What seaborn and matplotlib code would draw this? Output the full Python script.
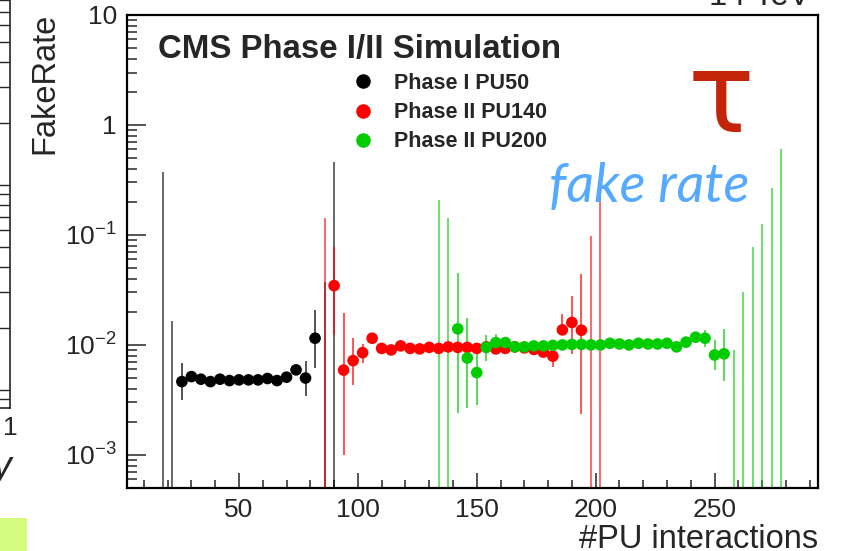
import numpy as np
import pandas as pd
import matplotlib
matplotlib.use("Agg")
import matplotlib.pyplot as plt
import matplotlib.ticker as mticker
from matplotlib.patches import Rectangle
import seaborn as sns

# ---------------- data ----------------
pu50_x = [26, 30, 34, 38, 42, 46, 50, 54, 58, 62, 66, 70, 74, 78, 82]
pu50_y = [4.64e-3, 5.15e-3, 4.88e-3, 4.64e-3, 4.88e-3, 4.74e-3, 4.81e-3, 4.81e-3,
          4.81e-3, 4.95e-3, 4.74e-3, 5.09e-3, 5.93e-3, 5.0e-3, 1.15e-2]
pu50_lo = [3.16e-3, None, None, None, None, None, None, None, None, None, None, None, None, 3.4e-3, 6.2e-3]
pu50_hi = [6.8e-3, None, None, None, None, None, None, None, None, None, None, None, None, 7.1e-3, 2.07e-2]
pu50_open_x = [18, 22, 86, 90]
pu50_open_hi = [0.37, 0.0166, 0.0377, 0.46]

pu140_x = [90, 94, 98, 102, 106, 110, 114, 118, 122, 126, 130, 134, 138, 142,
           146, 150, 154, 158, 162, 166, 170, 174, 178, 182, 186, 190, 194]
pu140_y = [0.0346, 5.9e-3, 7.2e-3, 8.5e-3, 1.15e-2, 9.3e-3, 9.0e-3, 9.8e-3, 9.3e-3,
           9.2e-3, 9.5e-3, 9.3e-3, 9.6e-3, 9.5e-3, 9.5e-3, 9.3e-3, 9.6e-3, 9.2e-3,
           9.3e-3, 9.6e-3, 9.4e-3, 9.1e-3, 8.6e-3, 7.9e-3, 0.0137, 0.0160, 0.0136]
pu140_lo = [0.0123, 1.0e-3, 4.3e-3, 6.8e-3] + [None] * 19 + [6.35e-3, 0.0123, 8.3e-3, 2.34e-3]
pu140_hi = [0.078, 0.0194, 0.0115, 0.0103] + [None] * 19 + [9.0e-3, 0.019, 0.028, 0.0442]
pu140_open_x = [86, 198, 202]
pu140_open_hi = [0.144, 0.098, 0.234]

pu200_x = [142, 146, 150, 154, 158, 162, 166, 170, 174, 178, 182, 186, 190, 194, 198,
           202, 206, 210, 214, 218, 222, 226, 230, 234, 238, 242, 246, 250, 254]
pu200_y = [0.0140, 7.6e-3, 5.6e-3, 9.5e-3, 0.0105, 0.0105, 9.6e-3, 9.6e-3, 9.8e-3,
           9.8e-3, 9.9e-3, 0.0100, 0.0101, 0.0101, 0.0100, 0.0100, 0.01035, 0.0102,
           0.0100, 0.01035, 0.0102, 0.0102, 0.01035, 9.6e-3, 0.0106, 0.01175, 0.0115,
           8.1e-3, 8.3e-3]
pu200_lo = [2.39e-3, 2.66e-3, 2.85e-3, 7.2e-3, 8.5e-3] + [None] * 21 + [9.66e-3, 5.93e-3, 4.73e-3]
pu200_hi = [0.0454, 0.0175, 0.0100, 0.0123, 0.0125] + [None] * 21 + [0.0137, 0.0111, 0.0139]
pu200_open_x = [134, 138, 258, 262, 266, 270, 274, 278]
pu200_open_hi = [0.209, 0.144, 8.9e-3, 0.0306, 0.078, 0.125, 0.265, 0.605]

labels = ["Phase I PU50", "Phase II PU140", "Phase II PU200"]
colors = {"Phase I PU50": "black", "Phase II PU140": "#ff0000", "Phase II PU200": "#00cc00"}

y_ticks = [1e-3, 1e-2, 1e-1, 1, 10]
y_ticklabels = ["$10^{-3}$", "$10^{-2}$", "$10^{-1}$", "1", "10"]
x_ticks = [50, 100, 150, 200, 250]

# ---------------- style ----------------
sns.set_theme(style="ticks")
plt.rcParams["font.family"] = ["Liberation Sans", "DejaVu Sans"]
plt.rcParams["mathtext.fontset"] = "custom"
plt.rcParams["mathtext.rm"] = "Liberation Sans"
plt.rcParams["mathtext.it"] = "Liberation Sans:italic"
plt.rcParams["mathtext.bf"] = "Liberation Sans:bold"
plt.rcParams["mathtext.default"] = "regular"

W, H = 842, 551
fig = plt.figure(figsize=(W / 100, H / 100), dpi=100)
fig.patch.set_facecolor("white")

def fx(px):
    return px / W

def fy(py):
    return 1 - py / H

# ---------------- remnant of previous panel (left edge) ----------------
ax0 = fig.add_axes([fx(-200), fy(408), fx(210), (408 + 20) / H])
ax0.set_yscale("log")
ax0.set_ylim(10 ** -0.088, 10 ** 2.0)
ax0.set_xlim(0, 1)
ax0.set_xticks([1])
ax0.set_xticklabels(["1"], fontsize=19)
ax0.yaxis.tick_right()
ax0.tick_params(axis="y", which="major", direction="in", length=10, width=1, right=True, left=False, labelright=False)
ax0.tick_params(axis="y", which="minor", direction="in", length=10, width=1, right=True, left=False, labelright=False)
ax0.tick_params(axis="x", which="both", length=0, pad=6)
for s in ["top", "left"]:
    ax0.spines[s].set_visible(False)
ax0.spines["right"].set_linewidth(1.2)
ax0.spines["bottom"].set_linewidth(1.2)
ax0.set_facecolor("none")
fig.text(fx(11), fy(468), "y", ha="right", va="center", fontsize=27, style="italic")
fig.patches.append(Rectangle((0, 0), fx(27), 33 / H, transform=fig.transFigure,
                             facecolor="#d4fa7e", edgecolor="none"))

# ---------------- main axes ----------------
ax = fig.add_axes([fx(126.5), fy(488), fx(818) - fx(126.5), fy(15) - fy(488)])
ax.set_yscale("log")
ymin, ymax = 5e-4, 10
ax.set_ylim(ymin, ymax)
ax.set_xlim(2.7, 293.5)

frames = []
for lab, xs, ys in [(labels[0], pu50_x, pu50_y), (labels[1], pu140_x, pu140_y), (labels[2], pu200_x, pu200_y)]:
    frames.append(pd.DataFrame({"PU": xs, "FakeRate": ys, "sample": lab}))
df = pd.concat(frames, ignore_index=True)

# error bars
series = [
    (labels[0], pu50_x, pu50_lo, pu50_hi, pu50_open_x, pu50_open_hi),
    (labels[1], pu140_x, pu140_lo, pu140_hi, pu140_open_x, pu140_open_hi),
    (labels[2], pu200_x, pu200_lo, pu200_hi, pu200_open_x, pu200_open_hi),
]
for lab, xs, lo, hi, ox, ohi in series:
    c = colors[lab]
    xe = [x for x, l in zip(xs, lo) if l is not None]
    le = [l for l in lo if l is not None]
    he = [h for h in hi if h is not None]
    ax.vlines(xe, le, he, colors=c, lw=1.1, alpha=0.85, zorder=2)
    ax.vlines(ox, [ymin * 0.5] * len(ox), ohi, colors=c, lw=1.1, alpha=0.75, zorder=2)

sns.scatterplot(data=df, x="PU", y="FakeRate", hue="sample", hue_order=labels,
                palette=colors, s=70, edgecolor="none", linewidth=0, alpha=1,
                ax=ax, zorder=3)

# axes styling
for s in ["top", "right", "left", "bottom"]:
    ax.spines[s].set_visible(True)
    ax.spines[s].set_linewidth(1.6)
    ax.spines[s].set_color("black")
ax.set_xticks(x_ticks)
ax.xaxis.set_minor_locator(mticker.MultipleLocator(10))
ax.yaxis.set_major_locator(mticker.FixedLocator(y_ticks))
ax.yaxis.set_major_formatter(mticker.FixedFormatter(y_ticklabels))
ax.yaxis.set_minor_locator(mticker.LogLocator(base=10, subs=np.arange(2, 10)))
ax.yaxis.set_minor_formatter(mticker.NullFormatter())
ax.tick_params(axis="x", which="major", direction="in", length=11, width=1.1, labelsize=19, pad=7, top=False)
ax.tick_params(axis="x", which="minor", direction="in", length=5.5, width=1.1, top=False)
ax.tick_params(axis="y", which="major", direction="in", length=14, width=1.1, labelsize=19, pad=7, right=False)
ax.tick_params(axis="y", which="minor", direction="in", length=7, width=1.1, right=False)

ax.set_xlabel("")
ax.set_ylabel("")
fig.text(fx(818), fy(548), "#PU interactions", ha="right", va="baseline", fontsize=23.5)
fig.text(fx(60), fy(13), "FakeRate", rotation=90, ha="right", va="top", fontsize=23.5)
fig.text(fx(810), fy(5), "14 TeV", ha="right", va="baseline", fontsize=23.5)

# legend
sns.move_legend(ax, "upper left", bbox_to_anchor=(fx(352.6), fy(73)),
                bbox_transform=fig.transFigure, frameon=False, title=None,
                prop={"weight": "bold", "size": 15.5}, handlelength=1.0,
                handletextpad=0.9, labelspacing=0.38, borderpad=0, borderaxespad=0,
                markerscale=1.25)

# annotations
fig.text(fx(158), fy(58.3), "CMS Phase I/II Simulation", ha="left", va="baseline",
         fontsize=23.8, fontweight="bold")
fig.text(fx(721), fy(102), "τ", ha="center", va="center", fontsize=80,
         color="#c4240a", family=["DejaVu Sans"])
fig.text(fx(549), fy(202), "fake rate", ha="left", va="baseline", fontsize=39,
         color="#55aaff", style="italic", family=["Lato", "DejaVu Sans"])

fig.savefig("out.png", dpi=100)
